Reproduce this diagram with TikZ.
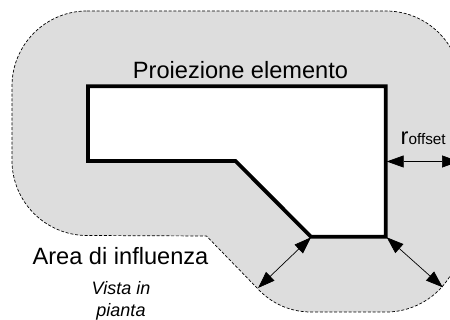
\documentclass[tikz,border=0pt]{standalone}
\usepackage{fontspec}
\setmainfont{Liberation Sans}
\usetikzlibrary{arrows.meta}
\definecolor{zonegray}{RGB}{221,221,221}
\tikzset{
  zone/.style={fill=zonegray,draw=black,line width=0.7pt,dash pattern=on 3pt off 1.8pt},
  element/.style={fill=white,draw=black,line width=3.8pt,miter limit=10},
  dim/.style={draw=black,line width=0.7pt,{Triangle[length=17pt,width=12pt]}-{Triangle[length=17pt,width=12pt]},shorten <=0pt,shorten >=0pt},
  lab/.style={inner sep=0pt,text=black,anchor=base},
  big/.style={lab,font=\fontsize{23.6}{28}\selectfont},
  small/.style={lab,font=\fontsize{18}{22}\selectfont\itshape}
}
\begin{document}
\begin{tikzpicture}[x=1pt,y=-1pt]
\useasboundingbox (0,0) rectangle (450,320);
\begin{scope}
\clip (0,0) rectangle (450,320);
\draw[zone] (87,11) -- (386,11)
  .. controls (427.4,11) and (461,44.6) .. (461,86)
  -- (461,237)
  .. controls (461,278.4) and (427.4,312) .. (386,312)
  -- (311,312)
  .. controls (291.1,312) and (272.1,304.1) .. (258,289)
  -- (206.5,236)
  -- (87,235.5)
  .. controls (45.6,235.5) and (12,201.9) .. (12,160.5)
  -- (12,86)
  .. controls (12,44.6) and (45.6,11) .. (87,11) -- cycle;
\draw[element] (88,86.3) -- (385.7,86.3) -- (385.7,236.8) -- (311,236.8) -- (235.5,161) -- (88,161) -- cycle;
\coordinate (rightA) at (386.7,161.5);
\coordinate (rightB) at (459,161.5);
\coordinate (cornerA) at (311,237.3);
\coordinate (cornerB) at (258,288);
\coordinate (cornerC) at (386.7,237.3);
\coordinate (cornerD) at (442.7,287.3);
\draw[dim] (rightA) -- (rightB);
\draw[dim] (cornerA) -- (cornerB);
\draw[dim] (cornerC) -- (cornerD);
\end{scope}
\node[big] (title) at (240.5,78.5) {Proiezione elemento};
\node[big] (area) at (120.5,265) {Area di influenza};
\node[small] (vista) at (121,295) {Vista in};
\node[small] (pianta) at (121,317) {pianta};
\node[lab,anchor=base west] (roff) at (400.5,145) {\fontsize{23.6}{28}\selectfont r\fontsize{15.3}{18}\selectfont offset};
\end{tikzpicture}
\end{document}
